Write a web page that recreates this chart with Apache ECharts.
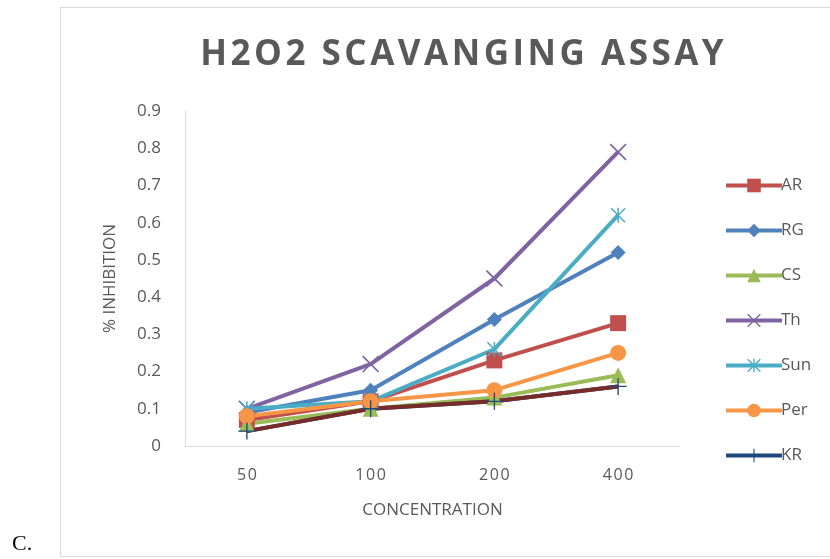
<!DOCTYPE html>
<html>
<head>
<meta charset="utf-8">
<script src="https://cdn.jsdelivr.net/npm/echarts@6/dist/echarts.min.js"></script>
<style>
html,body{margin:0;padding:0;background:#fff;}
#chart_h2o2{width:830px;height:559px;}
</style>
</head>
<body>
<div id="chart_h2o2"></div>
<script>
// 浓度 (x 轴类别)
var concentration = ['50', '100', '200', '400'];
// 各样品抑制率
var data_ar = [0.07, 0.12, 0.23, 0.33];
var data_rg = [0.09, 0.15, 0.34, 0.52];
var data_cs = [0.06, 0.10, 0.13, 0.19];
var data_th = [0.10, 0.22, 0.45, 0.79];
var data_sun = [0.10, 0.12, 0.26, 0.62];
var data_per = [0.08, 0.12, 0.15, 0.25];
var data_kr = [0.04, 0.10, 0.12, 0.16];
var legend_names = ['AR', 'RG', 'CS', 'Th', 'Sun', 'Per', 'KR'];

var sym_x = 'path://M0,1.4 L1.4,0 L20,18.6 L18.6,20 Z M18.6,0 L20,1.4 L1.4,20 L0,18.6 Z';
var sym_star = 'path://M0,1.4 L1.4,0 L20,18.6 L18.6,20 Z M18.6,0 L20,1.4 L1.4,20 L0,18.6 Z M9,0 L11,0 L11,20 L9,20 Z';
var sym_plus = 'path://M9.2,0 L10.8,0 L10.8,9.2 L20,9.2 L20,10.8 L10.8,10.8 L10.8,20 L9.2,20 L9.2,10.8 L0,10.8 L0,9.2 L9.2,9.2 Z';

function spaced(s){
    return String(s).split('').join('\u200A');
}

function makeLine(name, data, color, symbol, size){
    return {
        name: name,
        type: 'line',
        data: data,
        symbol: symbol,
        symbolSize: size,
        showSymbol: true,
        lineStyle: { width: 4, color: color },
        itemStyle: { color: color },
        emphasis: { disabled: true }
    };
}

var myChart = echarts.init(document.getElementById('chart_h2o2'));
var option = {
    backgroundColor: '#fff',
    animation: false,
    textStyle: { fontFamily: 'Open Sans' },
    title: {
        text: spaced('H2O2 SCAVANGING ASSAY'),
        left: 457,
        top: 33,
        textAlign: 'center',
        textStyle: {
            fontFamily: 'Open Sans',
            fontSize: 35,
            fontWeight: 'bold',
            color: '#595959'
        }
    },
    graphic: [
        {
            type: 'rect',
            shape: { x: 60.5, y: 7.5, width: 800, height: 549 },
            style: { fill: 'none', stroke: '#d9d9d9', lineWidth: 1 },
            z: -1
        },
        {
            type: 'text',
            left: 12,
            top: 533,
            style: { text: 'C.', font: '22px "Liberation Serif"', fill: '#000' }
        }
    ],
    legend: {
        orient: 'vertical',
        left: 719,
        top: 172,
        itemWidth: 56,
        itemHeight: 17,
        itemGap: 28,
        data: legend_names,
        lineStyle: { width: 4 },
        textStyle: { fontSize: 17, color: '#595959', padding: [0, 0, 0, -6] }
    },
    grid: {
        left: 185,
        right: 150,
        top: 111,
        bottom: 113
    },
    xAxis: {
        type: 'category',
        data: concentration,
        boundaryGap: true,
        name: 'CONCENTRATION',
        nameLocation: 'middle',
        nameGap: 56,
        nameTextStyle: { fontSize: 17, color: '#595959' },
        axisLine: { lineStyle: { color: '#d9d9d9', width: 1 } },
        axisTick: { show: false },
        axisLabel: {
            margin: 21,
            fontSize: 16,
            color: '#595959',
            formatter: function(v){ return spaced(v); }
        }
    },
    yAxis: {
        type: 'value',
        min: 0,
        max: 0.9,
        interval: 0.1,
        name: '% INHIBITION',
        nameLocation: 'middle',
        nameGap: 66,
        nameTextStyle: { fontSize: 17, color: '#595959' },
        axisLine: { show: true, lineStyle: { color: '#d9d9d9', width: 1 } },
        axisTick: { show: false },
        splitLine: { show: false },
        axisLabel: {
            margin: 24,
            fontSize: 17,
            color: '#595959',
            formatter: function(v){ return String(Math.round(v * 10) / 10); }
        }
    },
    series: [
        makeLine('AR', data_ar, '#C0504D', 'rect', 16),
        makeLine('RG', data_rg, '#4F81BD', 'diamond', 15),
        makeLine('CS', data_cs, '#9BBB59', 'triangle', 16),
        makeLine('Th', data_th, '#8064A2', sym_x, 17),
        makeLine('Sun', data_sun, '#4BACC6', sym_star, 15),
        makeLine('Per', data_per, '#F79646', 'circle', 16),
        makeLine('KR', data_kr, '#1F497D', sym_plus, 17),
        {
            name: 'KR_line',
            type: 'line',
            data: data_kr,
            symbol: 'none',
            lineStyle: { width: 4, color: '#772C2A' },
            itemStyle: { color: '#772C2A' },
            emphasis: { disabled: true }
        }
    ]
};
myChart.setOption(option);
</script>
</body>
</html>
